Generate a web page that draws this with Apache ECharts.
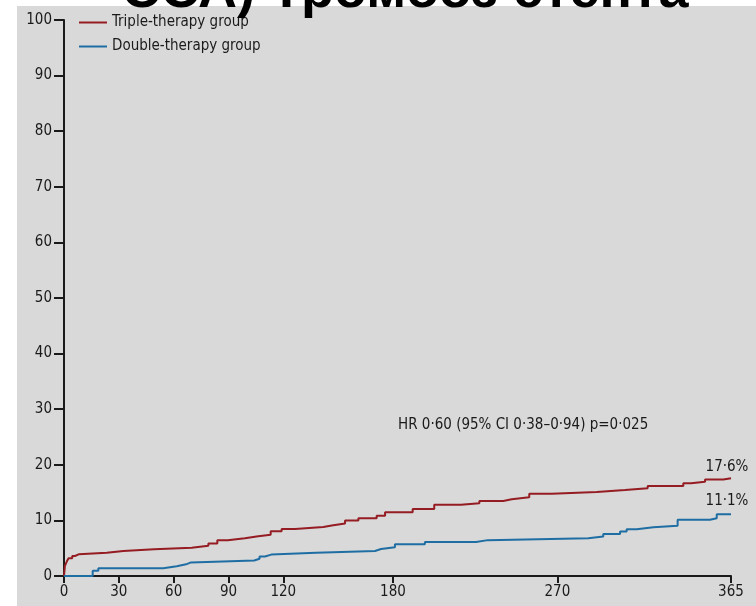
<!DOCTYPE html>
<html>
<head>
<meta charset="utf-8">
<script src="https://cdn.jsdelivr.net/npm/echarts@6/dist/echarts.min.js"></script>
<style>
  html, body { margin: 0; padding: 0; background: #ffffff; }
  #chart { width: 756px; height: 606px; }
</style>
</head>
<body>
<div id="chart"></div>
<script>
// Heading and annotation text
const titleText = 'ССА) Тромбоз стента';
const hrText = 'HR 0·60 (95% CI 0·38–0·94) p=0·025';

// Group names
const seriesNames = ['Triple-therapy group', 'Double-therapy group'];

// Axis ticks (days since randomisation, cumulative %)
const xTicks = [0, 30, 60, 90, 120, 180, 270, 365];
const yTicks = [0, 10, 20, 30, 40, 50, 60, 70, 80, 90, 100];

// Triple-therapy group: day at which each step occurs, and cumulative rate (%)
const tripleDays = [0, 0.5, 1.5, 2.5, 4.5, 6, 8, 23.4, 32.5, 49.3, 69.9, 79, 83.9, 89.6, 99, 106.3, 113.1, 119.1,
  126.4, 141.9, 146.5, 153.8, 161.1, 171.1, 175.7, 190.8, 202.6, 217.2, 227.3, 240.4, 245, 254.6,
  266.9, 291.5, 307, 319.4, 338.9, 343.1, 350.8, 360.8, 365];
const tripleRates = [0, 1.8, 2.6, 3.2, 3.6, 3.9, 4.2, 4.5, 4.8, 5.1, 5.45, 5.85, 6.45, 6.8, 7.15, 7.4, 8.05, 8.45,
  8.8, 9.1, 9.45, 10.0, 10.4, 10.85, 11.45, 12.05, 12.8, 13.1, 13.5, 13.8, 14.15, 14.8,
  15.1, 15.45, 15.8, 16.2, 16.7, 16.95, 17.35, 17.6, 17.6];

// Double-therapy group
const doubleDays = [0, 15.7, 18.8, 54.3, 61.7, 66.8, 69.5, 104.1, 107, 110, 113.4, 138, 170.2, 173.5, 181.1,
  197.5, 225.5, 231.9, 286.9, 295.1, 304.3, 307.9, 313.4, 322.5, 335.8, 353.5, 357.2, 365];
const doubleRates = [0, 0.95, 1.4, 1.75, 2.1, 2.45, 2.8, 3.1, 3.5, 3.85, 4.2, 4.5, 4.85, 5.15, 5.7,
  6.1, 6.45, 6.8, 7.1, 7.55, 8.0, 8.4, 8.75, 9.05, 10.1, 10.4, 11.1, 11.1];

const colors = ['#951c22', '#1f6ea3'];
const fontCond = "'Liberation Sans Narrow', 'DejaVu Sans Condensed', 'Noto Sans', sans-serif";
const inkColor = '#1a1a1a';

const pairs = (xs, ys) => xs.map((x, i) => [x, ys[i]]);
const fmtPct = v => v.toFixed(1).replace('.', '·') + '%';

const chart = echarts.init(document.getElementById('chart'), null, { renderer: 'canvas' });

function makeSeries(name, data, color, labelOffset) {
  return {
    name: name,
    type: 'line',
    step: 'end',
    data: data,
    showSymbol: false,
    symbol: 'none',
    animation: false,
    lineStyle: { color: color, width: 2 },
    itemStyle: { color: color },
    z: 3,
    endLabel: {
      show: true,
      formatter: p => fmtPct(p.value[1]),
      fontFamily: fontCond,
      fontSize: 15,
      color: inkColor,
      align: 'center',
      verticalAlign: 'bottom',
      distance: 0,
      offset: labelOffset
    }
  };
}

chart.setOption({
  backgroundColor: '#ffffff',
  animation: false,
  textStyle: { fontFamily: fontCond },
  grid: { left: 64, right: 25, top: 20, bottom: 30, containLabel: false },
  legend: {
    orient: 'vertical',
    left: 79,
    top: 15,
    padding: 0,
    itemWidth: 28,
    itemHeight: 2,
    itemGap: 9,
    icon: 'rect',
    data: seriesNames,
    textStyle: { fontFamily: fontCond, fontSize: 15, color: inkColor }
  },
  xAxis: {
    type: 'value',
    min: 0,
    max: 365,
    splitLine: { show: false },
    axisLine: { show: true, onZero: false, lineStyle: { color: '#1a1a1a', width: 2 } },
    axisTick: { show: true, customValues: xTicks, length: 7, inside: false, lineStyle: { color: '#1a1a1a', width: 2 } },
    axisLabel: { customValues: xTicks, fontFamily: fontCond, fontSize: 15, color: inkColor, margin: 9, showMinLabel: true, showMaxLabel: true }
  },
  yAxis: {
    type: 'value',
    min: 0,
    max: 100,
    interval: 10,
    splitLine: { show: false },
    axisLine: { show: true, lineStyle: { color: '#1a1a1a', width: 2 } },
    axisTick: { show: true, length: 10, lineStyle: { color: '#1a1a1a', width: 2 } },
    axisLabel: { fontFamily: fontCond, fontSize: 15, color: inkColor, margin: 12 }
  },
  graphic: [
    {
      type: 'rect', z: -10, silent: true,
      shape: { x: 17, y: 6, width: 739, height: 600 },
      style: { fill: '#d9d9d9' }
    },
    {
      type: 'text', z: 100, silent: true,
      style: {
        x: 405, y: -8, text: titleText, align: 'center', verticalAlign: 'middle',
        font: "bold 54px 'Liberation Sans', Arial, sans-serif", fill: '#000000'
      }
    },
    {
      type: 'text', z: 50, silent: true,
      style: {
        x: 398, y: 425, text: hrText, align: 'left', verticalAlign: 'middle',
        font: "15px " + fontCond, fill: inkColor
      }
    }
  ],
  series: [
    makeSeries(seriesNames[0], pairs(tripleDays, tripleRates), colors[0], [-4, -4]),
    makeSeries(seriesNames[1], pairs(doubleDays, doubleRates), colors[1], [-4, -6])
  ]
});
</script>
</body>
</html>
